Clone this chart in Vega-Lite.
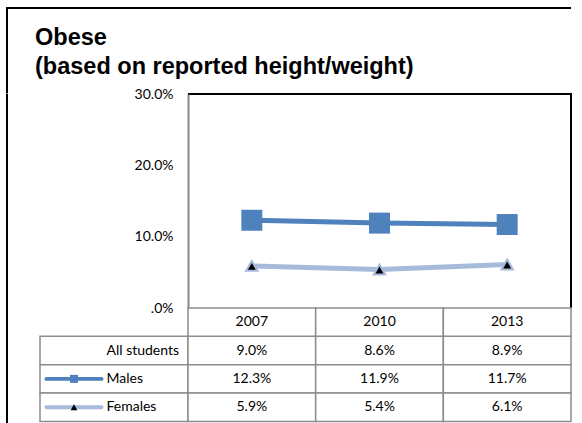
{
  "$schema": "https://vega.github.io/schema/vega-lite/v6.json",
  "padding": {"left": 6, "top": 7, "right": 0, "bottom": 0},
  "background": "white",
  "datasets": {
    "obese": [
      {"year": "2007", "series": "All students", "value": 0.090},
      {"year": "2010", "series": "All students", "value": 0.086},
      {"year": "2013", "series": "All students", "value": 0.089},
      {"year": "2007", "series": "Males", "value": 0.123},
      {"year": "2010", "series": "Males", "value": 0.119},
      {"year": "2013", "series": "Males", "value": 0.117},
      {"year": "2007", "series": "Females", "value": 0.059},
      {"year": "2010", "series": "Females", "value": 0.054},
      {"year": "2013", "series": "Females", "value": 0.061}
    ],
    "none": []
  },
  "config": {
    "view": {"stroke": null},
    "font": "Lato",
    "text": {"font": "Lato", "fontSize": 14, "color": "black"}
  },
  "columns": 1,
  "align": "each",
  "bounds": "flush",
  "spacing": 0,
  "concat": [
    {
      "width": 564,
      "height": 85.5,
      "view": {"stroke": "black", "strokeWidth": 2, "strokeDash": [649.5, 649.5], "strokeDashOffset": 85.5},
      "title": {
        "text": ["Obese", "(based on reported height/weight)"],
        "anchor": "start",
        "frame": "group",
        "orient": "top",
        "baseline": "top",
        "offset": -70,
        "dx": 28,
        "font": "Liberation Sans",
        "fontSize": 23.5,
        "fontWeight": "bold",
        "lineHeight": 28.5,
        "color": "black"
      },
      "data": {"name": "none"},
      "mark": {"type": "point", "opacity": 0}
    },
    {
      "columns": 2,
      "align": "each",
      "bounds": "flush",
      "spacing": 0,
      "concat": [
        {
          "width": 33,
          "height": 330,
          "view": {"stroke": "black", "strokeWidth": 2, "strokeDash": [0, 396, 330, 0]},
          "data": {"name": "none"},
          "mark": {"type": "point", "opacity": 0}
        },
        {
          "columns": 2,
          "align": "each",
          "bounds": "flush",
          "spacing": 0,
          "concat": [
            {
              "width": 148,
              "height": 214,
              "data": {"name": "none"},
              "mark": {"type": "point", "opacity": 0}
            },
            {
              "width": 383,
              "height": 214,
              "view": {"stroke": "black", "strokeWidth": 2, "strokeDash": [597, 597]},
              "data": {"name": "obese"},
              "encoding": {
                "x": {"field": "year", "type": "ordinal", "axis": null, "scale": {"type": "point", "padding": 0.5}},
                "y": {
                  "field": "value",
                  "type": "quantitative",
                  "scale": {"domain": [0, 0.3], "nice": false},
                  "axis": {
                    "values": [0, 0.1, 0.2, 0.3],
                    "labelExpr": "datum.value === 0 ? '.0%' : format(datum.value, '.1%')",
                    "title": null,
                    "grid": false,
                    "ticks": false,
                    "tickSize": 0,
                    "labelPadding": 15,
                    "labelFont": "Lato",
                    "labelFontSize": 14,
                    "labelColor": "black",
                    "domainColor": "#868686",
                    "domainWidth": 2
                  }
                }
              },
              "layer": [
                {
                  "transform": [{"filter": "datum.series === 'Males'"}],
                  "mark": {"type": "line", "color": "#4F81BD", "strokeWidth": 5}
                },
                {
                  "transform": [{"filter": "datum.series === 'Males'"}],
                  "mark": {"type": "point", "shape": "square", "filled": true, "color": "#4F81BD", "size": 440, "opacity": 1}
                },
                {
                  "transform": [{"filter": "datum.series === 'Females'"}],
                  "mark": {"type": "line", "color": "#A6BBDB", "strokeWidth": 5}
                },
                {
                  "transform": [{"filter": "datum.series === 'Females'"}],
                  "mark": {"type": "point", "shape": "triangle-up", "filled": true, "fill": "black", "stroke": "#A6BBDB", "strokeWidth": 2, "size": 130, "opacity": 1}
                }
              ]
            },
            {
              "width": 148,
              "height": 113.4,
              "data": {"name": "obese"},
              "transform": [{"filter": "datum.year === '2007'"}],
              "encoding": {
                "y": {
                  "field": "series",
                  "type": "nominal",
                  "scale": {"domain": ["Year", "All students", "Males", "Females"], "paddingInner": 0, "paddingOuter": 0},
                  "axis": {
                    "title": null,
                    "domain": false,
                    "ticks": false,
                    "tickSize": 0,
                    "labelAlign": "left",
                    "labelPadding": -66,
                    "labelFont": "Lato",
                    "labelFontSize": 14,
                    "labelColor": "black",
                    "labelExpr": "datum.value === 'Year' ? '' : datum.value"
                  }
                }
              },
              "layer": [
                {
                  "mark": {"type": "rect", "fill": "white", "stroke": "#8C8C8C", "strokeWidth": 1.5}
                },
                {
                  "transform": [{"filter": "datum.series !== 'All students'"}],
                  "mark": {
                    "type": "point",
                    "filled": true,
                    "size": 3025,
                    "opacity": 1,
                    "shape": "M-1,-0.0727H1A0.0727,0.0727 0 0 1 1,0.0727H-1A0.0727,0.0727 0 0 1 -1,-0.0727Z"
                  },
                  "encoding": {
                    "x": {"datum": "key", "type": "nominal", "scale": {"type": "band", "domain": ["key"], "paddingInner": 0, "paddingOuter": 0.588, "align": 0}, "axis": null},
                    "color": {"field": "series", "type": "nominal", "scale": {"domain": ["Males", "Females"], "range": ["#4F81BD", "#A6BBDB"]}, "legend": null}
                  }
                },
                {
                  "transform": [{"filter": "datum.series === 'Males'"}],
                  "mark": {"type": "point", "shape": "square", "filled": true, "color": "#4F81BD", "size": 64, "opacity": 1},
                  "encoding": {
                    "x": {"datum": "key", "type": "nominal", "scale": {"type": "band", "domain": ["key"], "paddingInner": 0, "paddingOuter": 0.588, "align": 0}, "axis": null}
                  }
                },
                {
                  "transform": [{"filter": "datum.series === 'Females'"}],
                  "mark": {"type": "point", "shape": "triangle-up", "filled": true, "color": "black", "size": 45, "opacity": 1},
                  "encoding": {
                    "x": {"datum": "key", "type": "nominal", "scale": {"type": "band", "domain": ["key"], "paddingInner": 0, "paddingOuter": 0.588, "align": 0}, "axis": null}
                  }
                }
              ]
            },
            {
              "width": 383,
              "height": 113.4,
              "data": {"name": "obese"},
              "encoding": {
                "x": {"field": "year", "type": "ordinal", "scale": {"type": "band", "paddingInner": 0, "paddingOuter": 0}, "axis": null},
                "y": {"field": "series", "type": "nominal", "scale": {"domain": ["Year", "All students", "Males", "Females"], "paddingInner": 0, "paddingOuter": 0}, "axis": null}
              },
              "layer": [
                {
                  "mark": {"type": "rect", "fill": "white", "stroke": "#8C8C8C", "strokeWidth": 1.5}
                },
                {
                  "transform": [{"filter": "datum.series === 'All students'"}],
                  "mark": {"type": "rect", "fill": "white", "stroke": "#8C8C8C", "strokeWidth": 1.5},
                  "encoding": {"y": {"datum": "Year"}}
                },
                {
                  "mark": {"type": "text", "font": "Lato", "fontSize": 14, "color": "black"},
                  "encoding": {"text": {"field": "value", "type": "quantitative", "format": ".1%"}}
                },
                {
                  "transform": [{"filter": "datum.series === 'All students'"}],
                  "mark": {"type": "text", "font": "Lato", "fontSize": 14, "color": "black"},
                  "encoding": {"y": {"datum": "Year"}, "text": {"field": "year", "type": "nominal"}}
                }
              ]
            }
          ]
        }
      ]
    }
  ]
}
